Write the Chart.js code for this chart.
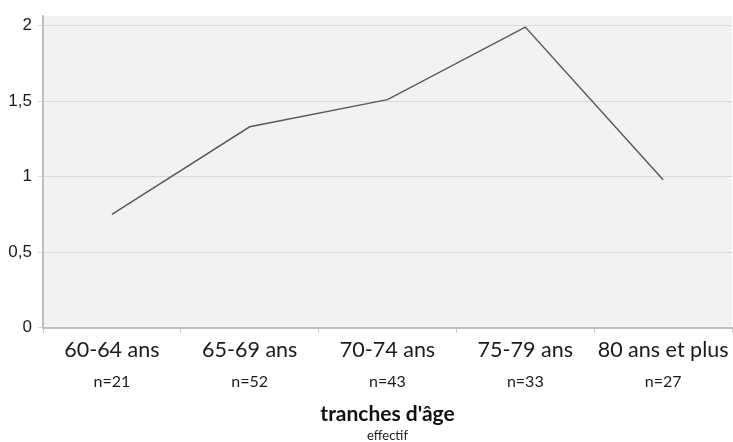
<!DOCTYPE html>
<html>
<head>
<meta charset="utf-8">
<script src="https://cdn.jsdelivr.net/npm/chart.js@4/dist/chart.umd.min.js"></script>
<style>
  body { margin: 0; background: #fff; }
</style>
</head>
<body>
<canvas id="chart" width="733" height="442"></canvas>
<script>
var ageGroups = ['60-64 ans', '65-69 ans', '70-74 ans', '75-79 ans', '80 ans et plus'];
var effectifs = ['n=21', 'n=52', 'n=43', 'n=33', 'n=27'];
var values = [0.75, 1.33, 1.51, 1.99, 0.98];
var yTicks = [0, 0.5, 1, 1.5, 2];

// grey panel behind the plot
var panelBg = {
    id: 'panelBg',
    beforeDraw: function(chart) {
        var a = chart.chartArea;
        var ctx = chart.ctx;
        ctx.save();
        ctx.fillStyle = '#f2f2f2';
        ctx.fillRect(a.left, a.top, a.right - a.left, a.bottom - a.top);
        ctx.restore();
    }
};

var ctx = document.getElementById('chart').getContext('2d');
var myChart = new Chart(ctx, {
    type: 'line',
    data: {
        labels: ageGroups,
        datasets: [{
            data: values,
            borderColor: '#5a5a5a',
            borderWidth: 1.5,
            pointRadius: 0,
            tension: 0,
            fill: false
        }]
    },
    options: {
        responsive: false,
        animation: false,
        layout: { padding: { top: 12, right: 1, left: 0, bottom: 0 } },
        plugins: {
            legend: { display: false },
            tooltip: { enabled: false },
            title: {
                display: true,
                text: "tranches d'âge",
                position: 'bottom',
                fullSize: false,
                weight: 1400,
                color: '#111',
                font: { family: 'Lato', size: 21, weight: 'bold', lineHeight: 1.2 },
                padding: { top: 4, bottom: 0 }
            },
            subtitle: {
                display: true,
                text: 'effectif',
                position: 'bottom',
                fullSize: false,
                weight: 1500,
                color: '#222',
                font: { family: 'Lato', size: 13, lineHeight: 1.0 },
                padding: { top: 2, bottom: 0 }
            }
        },
        scales: {
            x: {
                type: 'category',
                position: 'bottom',
                weight: 0,
                offset: true,
                grid: {
                    offset: true,
                    drawOnChartArea: false,
                    drawTicks: true,
                    tickLength: 5,
                    color: '#c8c8c8'
                },
                border: { display: true, color: '#bfbfbf', width: 2 },
                ticks: {
                    color: '#1a1a1a',
                    font: { family: 'Lato', size: 21.5 },
                    padding: 4,
                    maxRotation: 0,
                    autoSkip: false
                }
            },
            x2: {
                type: 'category',
                position: 'bottom',
                weight: 1,
                labels: effectifs,
                offset: true,
                grid: { display: false, drawTicks: false },
                border: { display: false },
                ticks: {
                    color: '#1a1a1a',
                    font: { family: 'Lato', size: 16 },
                    padding: 6,
                    maxRotation: 0,
                    autoSkip: false
                }
            },
            y: {
                min: 0,
                max: 2.062,
                afterBuildTicks: function(scale) {
                    scale.ticks = yTicks.map(function(v) { return { value: v }; });
                },
                afterFit: function(scale) {
                    scale.width = 43;
                },
                grid: {
                    color: '#d9d9d9',
                    lineWidth: 1,
                    drawTicks: true,
                    tickLength: 5
                },
                border: { display: true, color: '#bfbfbf', width: 2 },
                ticks: {
                    color: '#1a1a1a',
                    font: { family: 'Liberation Sans', size: 17 },
                    padding: 6,
                    callback: function(v) { return String(v).replace('.', ','); }
                }
            }
        }
    },
    plugins: [panelBg]
});
</script>
</body>
</html>
